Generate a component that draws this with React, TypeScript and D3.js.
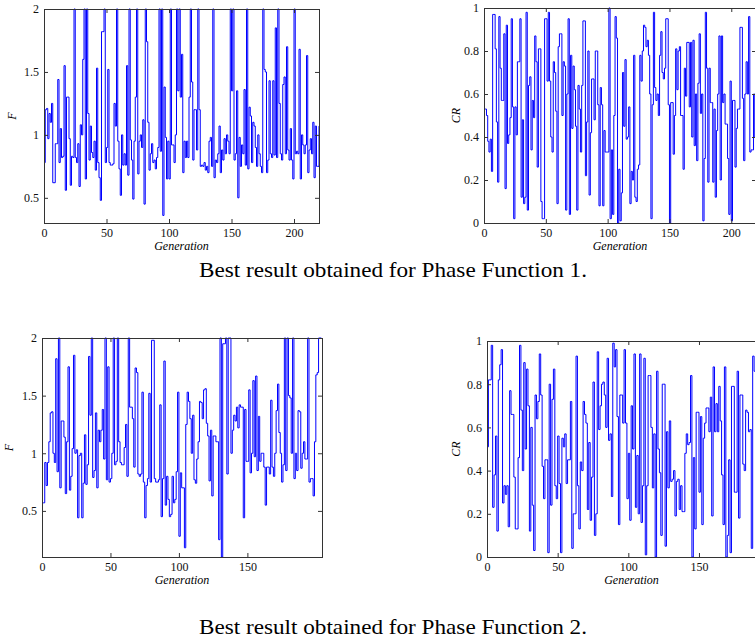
import React, { useEffect, useRef } from 'react';
import * as d3 from 'd3';

// F and CR per generation
const f1Values = [
  0.78, 1.2, 1.21, 0.97, 1.17, 1.1, 1.25, 0.62, 0.62, 0.93,
  0.93, 1.44, 0.78, 1.05, 0.82, 0.83, 1.55, 0.56, 1.3, 1.3,
  0.97, 0.6, 0.83, 0.82, 2.0, 0.82, 0.78, 0.93, 0.59, 1.08,
  1.0, 1.6, 2.0, 0.65, 2.0, 1.17, 0.8, 1.07, 0.86, 0.82,
  0.95, 0.72, 1.53, 0.78, 0.66, 0.48, 1.82, 1.82, 2.0, 0.78,
  0.9, 1.52, 0.78, 0.76, 0.76, 0.77, 1.25, 1.07, 2.0, 0.95,
  0.73, 0.52, 1.0, 0.76, 0.85, 0.76, 1.55, 0.68, 2.0, 0.96,
  0.8, 0.49, 0.95, 1.3, 2.0, 0.69, 0.95, 1.0, 0.9, 1.12,
  0.45, 2.0, 1.74, 1.1, 0.72, 0.85, 0.93, 0.78, 0.8, 0.73,
  0.82, 0.9, 2.0, 0.87, 2.0, 0.36, 1.38, 0.98, 0.65, 0.95,
  0.65, 2.0, 0.92, 0.92, 0.78, 1.0, 2.0, 1.35, 2.0, 1.3,
  1.64, 0.7, 0.95, 0.82, 0.95, 0.82, 1.3, 2.0, 1.42, 0.8,
  1.2, 1.2, 0.88, 2.0, 1.2, 0.75, 0.76, 0.75, 0.78, 0.72,
  0.75, 0.7, 0.95, 0.98, 0.75, 2.0, 0.66, 0.8, 0.78, 0.85,
  1.07, 0.7, 0.88, 0.8, 0.97, 0.85, 1.0, 0.95, 0.85, 2.0,
  1.35, 2.0, 0.8, 0.85, 1.35, 0.5, 0.98, 0.75, 0.92, 0.85,
  1.36, 0.76, 2.0, 0.73, 1.22, 1.15, 0.78, 1.1, 1.07, 0.9,
  0.75, 1.0, 0.85, 0.75, 0.7, 2.0, 1.52, 1.5, 0.7, 0.8,
  1.43, 0.85, 0.82, 1.43, 0.84, 1.85, 0.82, 2.0, 1.25, 0.85,
  0.8, 1.4, 1.46, 0.85, 1.7, 0.88, 0.8, 1.05, 0.8, 0.65,
  2.0, 0.85, 0.87, 0.85, 1.68, 0.65, 1.0, 0.92, 0.85, 0.92,
  1.63, 0.7, 0.88, 0.97, 0.85, 1.1, 0.66, 1.07, 0.75, 0.75,
  1.07,
];

const cr1Values = [
  0.53, 0.53, 0.5, 0.38, 0.33, 0.39, 0.24, 0.97, 0.97, 0.81,
  0.47, 0.19, 0.96, 0.72, 0.57, 0.57, 0.88, 0.16, 0.92, 0.37,
  0.41, 0.49, 0.95, 0.54, 0.02, 0.54, 0.41, 0.75, 0.75, 0.95,
  0.12, 0.48, 0.09, 0.12, 0.98, 0.06, 0.64, 0.68, 0.34, 0.57,
  0.49, 0.87, 0.75, 0.26, 0.81, 0.81, 0.1, 0.02, 0.02, 0.95,
  0.95, 0.66, 0.98, 0.66, 0.4, 0.33, 0.75, 0.7, 0.52, 0.09,
  0.82, 0.88, 0.88, 0.5, 0.75, 0.73, 0.06, 0.6, 0.95, 0.04,
  0.78, 0.44, 0.73, 0.62, 0.45, 0.06, 0.64, 0.53, 0.33, 0.64,
  0.94, 0.94, 0.22, 0.47, 0.8, 0.13, 0.42, 0.67, 0.67, 0.48,
  0.8, 0.8, 0.55, 0.08, 0.63, 0.55, 0.08, 0.43, 0.33, 0.33,
  0.33, 1.0, 0.02, 0.34, 0.04, 0.5, 0.96, 0.86, 0.0, 0.25,
  0.01, 0.14, 0.7, 0.45, 0.76, 0.39, 0.4, 0.54, 0.09, 0.24,
  0.2, 0.78, 0.12, 0.1, 0.25, 0.27, 0.78, 0.66, 0.8, 0.92,
  0.91, 0.82, 0.85, 0.78, 0.6, 0.02, 0.55, 0.98, 0.63, 0.57,
  0.6, 0.5, 0.78, 0.89, 0.7, 0.67, 0.72, 0.95, 0.95, 0.55,
  0.0, 0.56, 0.56, 0.32, 0.5, 0.81, 0.62, 0.8, 0.82, 0.5,
  0.5, 0.25, 0.72, 0.59, 0.84, 0.84, 0.54, 0.84, 0.4, 0.85,
  0.36, 0.6, 0.29, 0.65, 0.88, 0.51, 0.6, 0.01, 0.3, 0.98,
  0.72, 0.19, 0.72, 0.56, 0.56, 0.19, 0.53, 0.12, 0.43, 0.6,
  0.87, 0.2, 0.87, 0.56, 0.6, 0.46, 0.46, 0.3, 0.04, 0.66,
  0.01, 0.57, 0.57, 0.26, 0.44, 0.53, 0.53, 0.91, 0.91, 0.58,
  0.29, 0.6, 0.75, 0.6, 0.96, 0.33, 0.34, 0.34, 0.6, 0.4,
  0.5,
];

const f2Values = [
  0.57, 0.57, 0.92, 0.72, 0.92, 1.1, 1.35, 1.36, 1.0, 0.92,
  1.82, 0.84, 2.0, 0.7, 1.28, 1.28, 1.14, 0.65, 1.1, 1.75,
  0.68, 0.8, 1.04, 1.85, 1.0, 1.03, 0.44, 0.98, 1.0, 0.44,
  0.74, 1.16, 0.73, 0.9, 1.84, 1.33, 2.0, 0.79, 0.85, 1.35,
  0.7, 1.2, 1.1, 1.2, 1.38, 0.95, 2.0, 0.77, 1.75, 0.75,
  0.78, 1.0, 2.0, 0.9, 0.93, 2.0, 1.1, 0.92, 0.9, 0.9,
  1.05, 1.25, 0.8, 2.0, 1.4, 1.4, 1.3, 0.88, 1.74, 1.7,
  0.82, 0.8, 0.82, 1.53, 0.75, 0.44, 0.72, 0.78, 1.52, 0.75,
  1.98, 1.98, 0.78, 0.75, 0.75, 0.77, 1.42, 0.45, 0.78, 1.8,
  0.55, 0.8, 0.6, 0.45, 0.47, 0.8, 0.57, 0.6, 0.84, 1.53,
  0.28, 0.83, 0.7, 0.7, 0.18, 1.25, 1.53, 1.45, 1.3, 1.0,
  1.33, 0.77, 0.74, 0.95, 1.1, 1.45, 1.44, 1.3, 1.55, 1.56,
  1.26, 1.15, 0.76, 1.2, 0.63, 1.15, 1.15, 1.1, 1.1, 0.25,
  2.0, 0.1, 1.95, 1.95, 2.0, 0.82, 2.0, 2.0, 1.0, 1.2,
  1.33, 1.28, 1.4, 1.22, 1.42, 1.4, 1.4, 0.44, 1.38, 0.93,
  0.93, 1.55, 0.83, 1.0, 1.63, 0.97, 1.67, 0.85, 1.32, 0.93,
  1.0, 1.0, 0.88, 0.55, 0.88, 0.88, 0.82, 1.46, 0.88, 0.8,
  1.0, 1.37, 1.6, 1.18, 1.0, 0.75, 0.9, 2.0, 0.85, 2.0,
  1.5, 1.48, 1.0, 2.0, 0.78, 1.0, 0.85, 1.37, 1.36, 0.87,
  1.0, 1.1, 0.95, 0.95, 2.0, 0.75, 0.78, 0.78, 0.63, 1.1,
  1.68, 1.7, 2.0, 2.0, 2.0,
];

const cr2Values = [
  0.51, 0.82, 0.82, 0.98, 0.23, 0.38, 0.56, 0.12, 0.82, 0.89,
  0.96, 0.25, 0.33, 0.29, 0.33, 0.14, 0.77, 0.66, 0.66, 0.37,
  0.13, 0.13, 0.46, 0.98, 0.68, 0.4, 0.9, 0.5, 0.87, 0.7,
  0.12, 0.6, 0.24, 0.03, 0.75, 0.64, 0.72, 0.94, 0.75, 0.42,
  0.27, 0.45, 0.45, 0.02, 0.8, 0.24, 0.73, 0.87, 0.33, 0.27,
  0.56, 0.34, 0.02, 0.55, 0.51, 0.57, 0.34, 0.45, 0.45, 0.72,
  0.04, 0.2, 0.2, 0.93, 0.33, 0.13, 0.44, 0.4, 0.72, 0.66,
  0.62, 0.22, 0.53, 0.17, 0.37, 0.81, 0.1, 0.2, 0.95, 0.59,
  0.7, 0.8, 0.81, 0.75, 0.6, 0.92, 0.54, 0.57, 0.28, 0.99,
  0.88, 0.96, 0.65, 0.15, 0.75, 0.75, 0.62, 0.96, 0.62, 0.27,
  0.48, 0.17, 0.7, 0.5, 0.94, 0.23, 0.47, 0.2, 0.94, 0.16,
  0.33, 0.92, 0.01, 0.33, 0.84, 0.84, 0.6, 0.32, 0.57, 0.0,
  0.86, 0.5, 0.39, 0.1, 0.8, 0.8, 0.05, 0.58, 0.32, 0.63,
  0.35, 0.36, 0.4, 0.19, 0.35, 0.36, 0.22, 0.33, 0.21, 0.21,
  0.48, 0.57, 0.52, 0.53, 0.84, 0.0, 0.46, 0.13, 0.67, 0.67,
  0.3, 0.65, 0.15, 0.55, 0.62, 0.69, 0.69, 0.58, 0.74, 0.19,
  0.88, 0.58, 0.71, 0.58, 0.79, 0.63, 0.38, 0.15, 0.88, 0.0,
  0.1, 0.45, 0.02, 0.79, 0.79, 0.3, 0.3, 0.86, 0.18, 0.75,
  0.75, 0.43, 0.4, 0.68, 0.67, 0.58, 0.59, 0.04, 0.93, 0.86,
  0.75, 0.34,
];

const fTicks = [0.5, 1, 1.5, 2];
const crTicks = [0, 0.2, 0.4, 0.6, 0.8, 1];
const genTicks1 = [0, 50, 100, 150, 200];
const genTicks2 = [0, 50, 100, 150];

const captions = [
  'Best result obtained for Phase Function 1.',
  'Best result obtained for Phase Function 2.',
];

const serif = '"Liberation Serif", "Times New Roman", serif';

const panels = [
  { values: f1Values, label: 'F', xMax: 220, yDomain: [0.3, 2], yTicks: fTicks, xTicks: genTicks1,
    left: 44, top: 9, right: 319, bottom: 223, labelX: 16 },
  { values: cr1Values, label: 'CR', xMax: 220, yDomain: [0, 1], yTicks: crTicks, xTicks: genTicks1,
    left: 484, top: 8, right: 756, bottom: 223, labelX: 460 },
  { values: f2Values, label: 'F', xMax: 204.5, yDomain: [0.1, 2], yTicks: fTicks, xTicks: genTicks2,
    left: 42, top: 338, right: 322, bottom: 557, labelX: 13 },
  { values: cr2Values, label: 'CR', xMax: 204.5, yDomain: [0, 1], yTicks: crTicks, xTicks: genTicks2,
    left: 487, top: 341, right: 776, bottom: 557, labelX: 460 },
];

const App = () => {
  const svgRef = useRef<SVGSVGElement>(null);

  useEffect(() => {
    const svg = d3.select(svgRef.current);
    svg.selectAll('*').remove();

    panels.forEach(p => {
      const x = d3.scaleLinear().domain([0, p.xMax]).range([p.left, p.right]);
      const y = d3.scaleLinear().domain(p.yDomain).range([p.bottom, p.top]);
      const g = svg.append('g');

      const line = d3.line<number>()
        .x((d, i) => x(i))
        .y(d => y(d))
        .curve(d3.curveStepAfter);

      g.append('path')
        .datum(p.values)
        .attr('fill', 'none')
        .attr('stroke', '#0000ff')
        .attr('stroke-width', 1)
        .attr('d', line);

      // matlab style box, ticks pointing inwards on all sides
      const styleAxis = (a: any) => {
        a.select('.domain').remove();
        a.selectAll('line').attr('stroke', '#333');
        a.selectAll('text')
          .style('font-family', serif)
          .style('font-size', '12px')
          .attr('fill', '#111');
      };

      g.append('g')
        .attr('transform', `translate(0,${p.bottom})`)
        .call(d3.axisBottom(x).tickValues(p.xTicks).tickSize(-4).tickPadding(5).tickFormat(d3.format('d')))
        .call(styleAxis);
      g.append('g')
        .attr('transform', `translate(0,${p.top})`)
        .call(d3.axisTop(x).tickValues(p.xTicks).tickSize(-4).tickFormat(() => ''))
        .call(styleAxis);
      g.append('g')
        .attr('transform', `translate(${p.left},0)`)
        .call(d3.axisLeft(y).tickValues(p.yTicks).tickSize(-4).tickPadding(5).tickFormat(d3.format('')))
        .call(styleAxis);
      g.append('g')
        .attr('transform', `translate(${p.right},0)`)
        .call(d3.axisRight(y).tickValues(p.yTicks).tickSize(-4).tickFormat(() => ''))
        .call(styleAxis);

      g.append('rect')
        .attr('x', p.left + 0.5)
        .attr('y', p.top + 0.5)
        .attr('width', p.right - p.left)
        .attr('height', p.bottom - p.top)
        .attr('fill', 'none')
        .attr('stroke', '#333');

      g.append('text')
        .attr('x', (p.left + p.right) / 2)
        .attr('y', p.bottom + 27)
        .attr('text-anchor', 'middle')
        .style('font-family', serif)
        .style('font-style', 'italic')
        .style('font-size', '12px')
        .text('Generation');

      g.append('text')
        .attr('transform', `translate(${p.labelX},${(p.top + p.bottom) / 2}) rotate(-90)`)
        .attr('text-anchor', 'middle')
        .style('font-family', serif)
        .style('font-style', 'italic')
        .style('font-size', '12px')
        .text(p.label);
    });

    // figure captions
    svg.selectAll('text.caption')
      .data(captions)
      .join('text')
      .attr('class', 'caption')
      .attr('x', 393)
      .attr('y', (d, i) => (i === 0 ? 277 : 634))
      .attr('text-anchor', 'middle')
      .attr('textLength', 388)
      .attr('lengthAdjust', 'spacingAndGlyphs')
      .style('font-family', serif)
      .style('font-size', '21px')
      .attr('fill', '#000')
      .text(d => d);
  }, []);

  return (
    <svg ref={svgRef} width={755} height={642}
      style={{ position: 'absolute', left: 0, top: 0, background: '#fff' }} />
  );
};

export default App;
